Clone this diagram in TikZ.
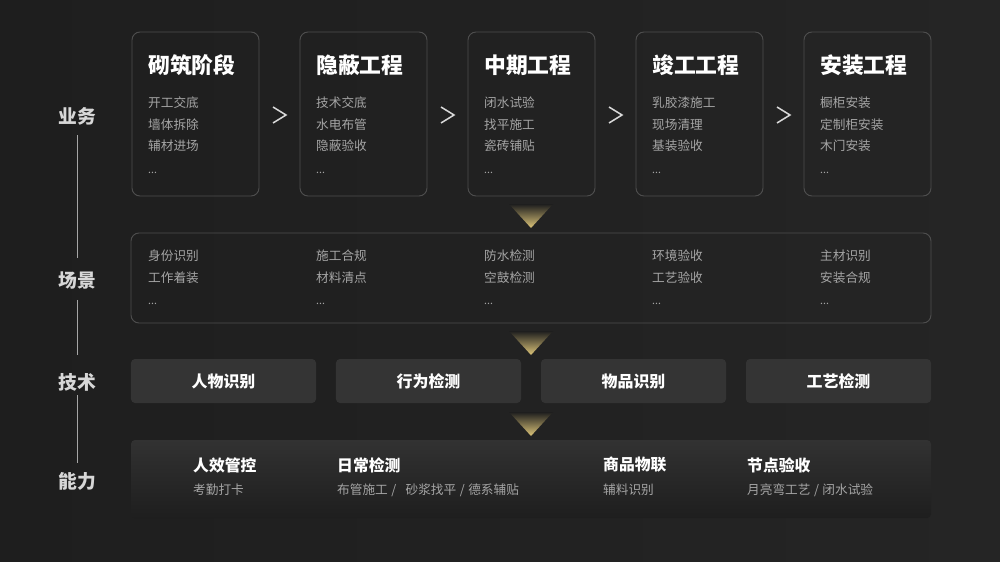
\documentclass[tikz,border=0pt]{standalone}
\usepackage{fontspec}
\setmainfont{Noto Sans CJK SC}
\definecolor{bgdark}{RGB}{30,30,30}
\definecolor{bglight}{RGB}{37,37,37}
\definecolor{boxline}{RGB}{78,78,78}
\definecolor{techfill}{RGB}{52,52,52}
\definecolor{itemgray}{RGB}{165,165,165}
\definecolor{sidegray}{RGB}{215,215,215}
\definecolor{gold}{RGB}{222,198,122}
\begin{document}
\begin{tikzpicture}[x=0.03cm,y=-0.03cm,
    sidelabel/.style={text=sidegray,font=\fontsize{16}{18}\selectfont\bfseries},
    sideline/.style={draw=gray!70,line width=0.8pt},
    stagebox/.style={draw=boxline,line width=0.8pt,rounded corners=0.24cm},
    stagetitle/.style={anchor=west,inner sep=0pt,text=white,font=\fontsize{18.6}{22}\selectfont\bfseries},
    item/.style={anchor=west,inner sep=0pt,text=itemgray,font=\fontsize{10.8}{13}\selectfont},
    dots/.style={anchor=base west,inner sep=0pt,text=itemgray,font=\fontsize{9}{11}\selectfont},
    techbox/.style={fill=techfill,rounded corners=0.12cm,minimum width=5.55cm,minimum height=1.32cm,
        text=white,font=\fontsize{13.6}{16}\selectfont\bfseries},
    abtitle/.style={anchor=west,inner sep=0pt,text=white,font=\fontsize{13.5}{16}\selectfont\bfseries},
    chevron/.style={draw=white!85!black,line width=1.3pt}
]
\shade[left color=bgdark,right color=bglight] (0,0) rectangle (1000,562);
\useasboundingbox (0,0) rectangle (1000,562);

% left column
\node[sidelabel] (biz) at (77,116) {业务};
\node[sidelabel] (scene) at (77,280) {场景};
\node[sidelabel] (tech) at (77,382) {技术};
\node[sidelabel] (abil) at (77,481) {能力};
\draw[sideline,shorten <=0.18cm,shorten >=0.27cm] (biz) -- (scene);
\draw[sideline,shorten <=0.21cm,shorten >=0.42cm] (scene) -- (tech);
\draw[sideline,shorten <=0cm,shorten >=0.15cm] (tech) -- (abil);

% stages
\foreach \t/\a/\b/\c [count=\i from 0] in {砌筑阶段/开工交底/墙体拆除/辅材进场,
    隐蔽工程/技术交底/水电布管/隐蔽验收, 中期工程/闭水试验/找平施工/瓷砖铺贴,
    竣工工程/乳胶漆施工/现场清理/基装验收, 安装工程/橱柜安装/定制柜安装/木门安装}{
  \draw[stagebox] (132+168*\i,32) rectangle ++(127,164);
  \node[stagetitle] (st\i) at (148+168*\i,65) {\t};
  \node[item] (sa\i) at (148+168*\i,103) {\a};
  \node[item] (sb\i) at (148+168*\i,125) {\b};
  \node[item] (sc\i) at (148+168*\i,146) {\c};
  \node[dots] (sd\i) at (148+168*\i,173) {...};
}
\foreach \x in {279,447,615,783}
  \draw[chevron] (\x-6,107) -- (\x+7,115) -- (\x-6,123);

% gold triangles
\foreach \y in {204,331,412}
  \shade[top color=bgdark,bottom color=gold] (509,\y) -- (553,\y) -- (531,\y+24) -- cycle;

% scenes
\draw[stagebox] (131,233) rectangle (931,323);
\foreach \a/\b [count=\i from 0] in {身份识别/工作着装, 施工合规/材料清点, 防水检测/空鼓检测,
    环境验收/工艺验收, 主材识别/安装合规}{
  \node[item] (ca\i) at (148+168*\i,256) {\a};
  \node[item] (cb\i) at (148+168*\i,278) {\b};
  \node[dots] (cd\i) at (148+168*\i,304) {...};
}

% techniques
\foreach \t [count=\i from 0] in {人物识别,行为检测,物品识别,工艺检测}
  \node[techbox] (tb\i) at (223.5+205*\i,381) {\t};

% abilities
\shade[top color=techfill!90!bgdark,bottom color=bgdark,rounded corners=0.12cm] (131,440) rectangle (931,518);
\node[abtitle] (ab0) at (193,465) {人效管控};
\node[item] (ai0) at (193,490) {考勤打卡};
\node[abtitle] (ab1) at (337,465) {日常检测};
\node[item] (ai1) at (337,490) {布管施工\hspace{3pt}/\hspace{8pt}砂浆找平\hspace{3pt}/\hspace{3pt}德系辅贴};
\node[abtitle] (ab2) at (603,465) {商品物联};
\node[item] (ai2) at (603,490) {辅料识别};
\node[abtitle] (ab3) at (747,465) {节点验收};
\node[item] (ai3) at (747,490) {月亮弯工艺\hspace{3pt}/\hspace{3pt}闭水试验};
\end{tikzpicture}
\end{document}
